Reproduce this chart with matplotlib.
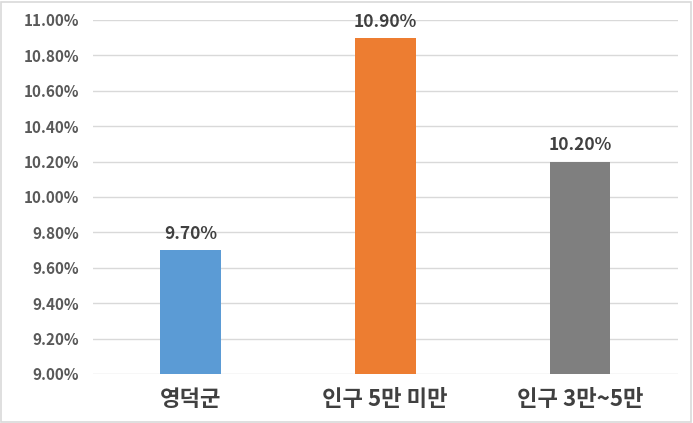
import matplotlib.pyplot as plt
from matplotlib.patches import Rectangle

plt.rcParams['font.family'] = ['Noto Sans CJK KR', 'DejaVu Sans']

categories = ['영덕군', '인구 5만 미만', '인구 3만~5만']
values = [9.70, 10.90, 10.20]
colors = ['#5B9BD5', '#ED7D31', '#7F7F7F']

fig = plt.figure(figsize=(6.93, 4.23), dpi=100)
ax = fig.add_axes([0.134, 0.116, 0.844, 0.837])

x = range(len(categories))
ax.bar(x, [v - 9.0 for v in values], bottom=9.0, width=0.31, color=colors, zorder=3)

for xi, v in zip(x, values):
    ax.text(xi, v + 0.04, f'{v:.2f}%', ha='center', va='bottom',
            fontsize=12.5, fontweight='bold', color='#404040')

ax.set_xlim(-0.5, 2.5)
ax.set_ylim(9.0, 11.0)
ticks = [9.0 + 0.2 * i for i in range(11)]
ax.set_yticks(ticks)
ax.set_yticklabels([f'{t:.2f}%' for t in ticks], fontsize=11,
                   fontweight='bold', color='#595959')
ax.set_xticks(list(x))
ax.set_xticklabels(categories, fontsize=16, fontweight='bold', color='#404040')

ax.grid(axis='y', color='#D9D9D9', linewidth=1, zorder=0)
for s in ax.spines.values():
    s.set_visible(False)
ax.tick_params(axis='both', length=0)
ax.tick_params(axis='y', pad=10)
ax.tick_params(axis='x', pad=10)

fig.patches.append(Rectangle((0.002, 0.003), 0.995, 0.993, transform=fig.transFigure,
                             fill=False, edgecolor='#D9D9D9', linewidth=1.2))

fig.savefig('out.png', dpi=100)
